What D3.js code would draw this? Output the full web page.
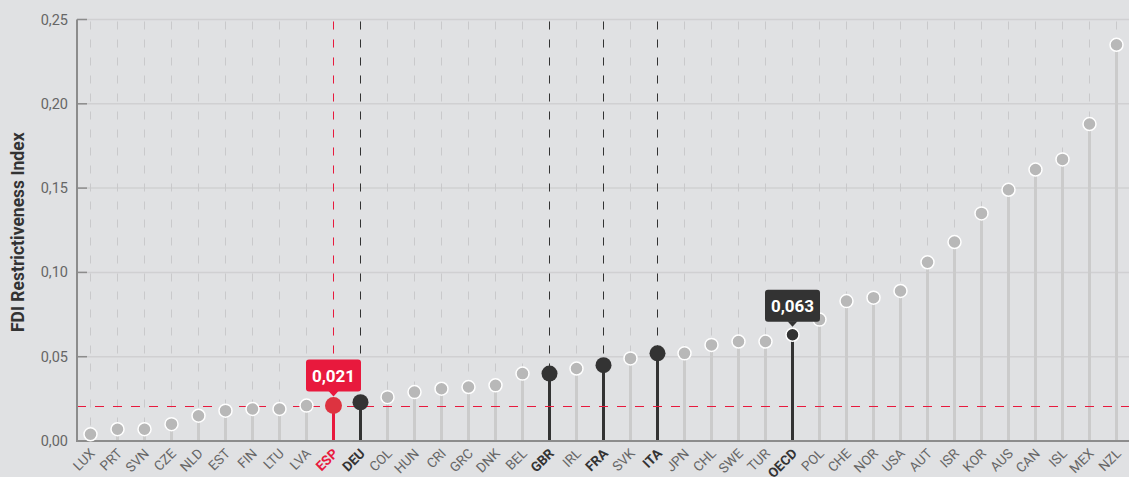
<!DOCTYPE html>
<html>
<head>
<meta charset="utf-8">
<script src="https://cdn.jsdelivr.net/npm/d3@7"></script>
<style>
  html, body { margin: 0; padding: 0; background: #e0e1e3; }
  svg { display: block; font-family: Roboto, "Noto Sans", sans-serif; }
</style>
</head>
<body>
<svg id="chart" width="1129" height="477"></svg>
<script>
// countries ordered by index value
const countries = ["LUX","PRT","SVN","CZE","NLD","EST","FIN","LTU","LVA","ESP","DEU","COL","HUN","CRI","GRC","DNK","BEL","GBR","IRL","FRA","SVK","ITA","JPN","CHL","SWE","TUR","OECD","POL","CHE","NOR","USA","AUT","ISR","KOR","AUS","CAN","ISL","MEX","NZL"];
const values = [0.004,0.007,0.007,0.010,0.015,0.018,0.019,0.019,0.021,0.021,0.023,0.026,0.029,0.031,0.032,0.033,0.040,0.040,0.043,0.045,0.049,0.052,0.052,0.057,0.059,0.059,0.063,0.072,0.083,0.085,0.089,0.106,0.118,0.135,0.149,0.161,0.167,0.188,0.235];
const yTicks = [0, 0.05, 0.10, 0.15, 0.20, 0.25];
const focus = "ESP";
const peers = ["DEU","GBR","FRA","ITA"];
const benchmark = "OECD";

const data = countries.map((c, i) => ({ c, v: values[i] }));
const svg = d3.select("#chart");

const margin = { left: 77, right: 0, top: 19.5, bottom: 36 };
const width = 1129, height = 477;

const x = d3.scaleBand().domain(countries).range([margin.left, 1130]).padding(0);
const y = d3.scaleLinear().domain([0, 0.25]).range([height - margin.bottom, margin.top]);
const cx = d => x(d) + x.bandwidth() / 2;
const fmt = v => d3.format(".3f")(v).replace(".", ",");
const fmt2 = v => d3.format(".2f")(v).replace(".", ",");

const RED = "#e8193d", DARK = "#333333", GREY = "#b8b8b8", STEM = "#cbcbcb";

// horizontal grid
svg.append("g").selectAll("line").data(yTicks.slice(1)).join("line")
  .attr("x1", margin.left).attr("x2", width)
  .attr("y1", d => y(d)).attr("y2", d => y(d))
  .attr("stroke", "#d0d0d2").attr("stroke-width", 1.5);

// vertical dashed grid
svg.append("g").selectAll("line").data(countries).join("line")
  .attr("x1", cx).attr("x2", cx)
  .attr("y1", y(0.25) + 2).attr("y2", y(0))
  .attr("stroke", "#c9c9cb").attr("stroke-width", 1)
  .attr("stroke-dasharray", "8,10");

// highlighted dashed lines down to the dot
svg.append("g").selectAll("line").data(data.filter(d => d.c === focus || peers.includes(d.c))).join("line")
  .attr("x1", d => cx(d.c)).attr("x2", d => cx(d.c))
  .attr("y1", y(0.25) + 2).attr("y2", d => y(d.v))
  .attr("stroke", d => d.c === focus ? RED : DARK).attr("stroke-width", 1)
  .attr("stroke-dasharray", "8,10");

// stems
svg.append("g").selectAll("line").data(data).join("line")
  .attr("x1", d => cx(d.c)).attr("x2", d => cx(d.c))
  .attr("y1", d => y(d.v)).attr("y2", y(0))
  .attr("stroke", d => d.c === focus ? RED : (peers.includes(d.c) || d.c === benchmark) ? DARK : STEM)
  .attr("stroke-width", 3);

// reference line at focus value
const focusVal = data.find(d => d.c === focus).v;
const fy = Math.round(y(focusVal)) + 0.5;
svg.append("line")
  .attr("x1", margin.left).attr("x2", width)
  .attr("y1", fy).attr("y2", fy)
  .attr("stroke", RED).attr("stroke-width", 1)
  .attr("stroke-dasharray", "9,9");

// axes lines
svg.append("line").attr("x1", margin.left).attr("x2", margin.left)
  .attr("y1", y(0.25)).attr("y2", y(0) + 1)
  .attr("stroke", "#8c8c8c").attr("stroke-width", 2);
svg.append("line").attr("x1", margin.left).attr("x2", width)
  .attr("y1", y(0)).attr("y2", y(0))
  .attr("stroke", "#8c8c8c").attr("stroke-width", 2);

// y ticks
const yt = svg.append("g").selectAll("g").data(yTicks).join("g");
yt.append("line").attr("x1", margin.left).attr("x2", margin.left + 10)
  .attr("y1", d => y(d)).attr("y2", d => y(d))
  .attr("stroke", "#8c8c8c").attr("stroke-width", 1.5);
yt.append("text").attr("x", margin.left - 9).attr("y", d => y(d))
  .attr("dy", "0.35em").attr("text-anchor", "end")
  .attr("font-size", 14.5).attr("fill", "#666")
  .text(fmt2);

// y title
svg.append("text")
  .attr("transform", `translate(24, ${(y(0) + y(0.25)) / 2 + 2}) rotate(-90)`)
  .attr("text-anchor", "middle").attr("font-size", 17.5).attr("font-weight", 700)
  .attr("fill", "#333").text("FDI Restrictiveness Index");

// x labels
svg.append("g").selectAll("text").data(countries).join("text")
  .attr("transform", d => `translate(${cx(d) + 2}, ${y(0) + 10}) rotate(-45)`)
  .attr("text-anchor", "end").attr("dy", "0.35em")
  .attr("font-size", 13.5)
  .attr("font-weight", d => (d === focus || peers.includes(d) || d === benchmark) ? 700 : 400)
  .attr("fill", d => d === focus ? RED : (peers.includes(d) || d === benchmark) ? "#333" : "#666")
  .text(d => d);

// dots
svg.append("g").selectAll("circle").data(data).join("circle")
  .attr("cx", d => cx(d.c)).attr("cy", d => y(d.v))
  .attr("r", d => d.c === focus ? 8.5 : peers.includes(d.c) ? 8 : 6.5)
  .attr("fill", d => d.c === focus ? "#dd3340" : (peers.includes(d.c) || d.c === benchmark) ? DARK : GREY)
  .attr("stroke", "#fff").attr("stroke-width", d => d.c === focus || peers.includes(d.c) ? 0 : 1.5);

// value labels
function bubble(code, color, offset) {
  const d = data.find(e => e.c === code);
  const px = cx(d.c), py = y(d.v) - offset;
  const g = svg.append("g").attr("transform", `translate(${px}, ${py})`);
  const w = 55, h = 32;
  g.append("rect").attr("x", -w / 2).attr("y", -h - 5).attr("width", w).attr("height", h)
    .attr("rx", 3).attr("fill", color);
  g.append("path").attr("d", "M-5,-5.5 L5,-5.5 L0,0 Z").attr("fill", color);
  g.append("text").attr("x", 0).attr("y", -h / 2 - 5).attr("dy", "0.36em")
    .attr("text-anchor", "middle").attr("font-size", 17).attr("font-weight", 700)
    .attr("fill", "#fff").text(fmt(d.v));
}
bubble(focus, RED, 9);
bubble(benchmark, DARK, 8);
</script>
</body>
</html>
